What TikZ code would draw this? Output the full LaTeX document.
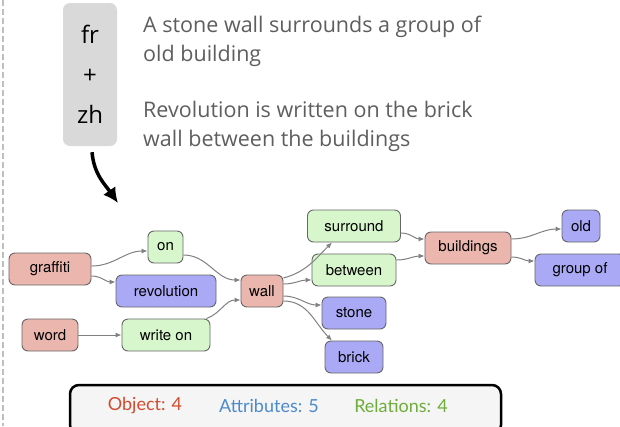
\documentclass[tikz,border=0pt]{standalone}
\usepackage{fontspec}
\setmainfont{Open Sans}
\setsansfont{TeX Gyre Heros}
\newfontfamily\countfont{Lato}
\usetikzlibrary{arrows.meta}

\definecolor{objred}{HTML}{EBB6AE}
\definecolor{attblue}{HTML}{A9A9F5}
\definecolor{relgreen}{HTML}{D7F6CC}
\definecolor{edgegray}{HTML}{808080}
\definecolor{txtgray}{HTML}{5E5E5E}
\definecolor{cntred}{HTML}{D14B30}
\definecolor{cntblue}{HTML}{4C8ACB}
\definecolor{cntgreen}{HTML}{6EAD3B}

\tikzset{
  gnode/.style={draw=black!60, rounded corners=6pt, minimum height=32pt, inner sep=0pt,
                line width=0.9pt, font=\sffamily\fontsize{15}{15}\selectfont},
  obj/.style={gnode, fill=objred},
  att/.style={gnode, fill=attblue},
  rel/.style={gnode, fill=relgreen},
  edge/.style={draw=edgegray, line width=1pt, -{Latex[length=6pt,width=5pt]}},
  cnt/.style={font=\countfont\fontsize{18}{18}\selectfont},
  caption/.style={anchor=north west, inner sep=0pt, align=left, text=txtgray,
                  font=\fontsize{21.5}{29}\selectfont},
}

\begin{document}
\begin{tikzpicture}[x=1pt,y=-1pt]
\useasboundingbox (0,0) rectangle (620,426);
%\draw [lightgray](0,0) grid (620,426);
\draw [black!25, line width=2pt, dash pattern=on 6pt off 3pt](3,0) -- (3,426);

% language pair and the two captions
\node [fill=black!15, rounded corners=7pt, minimum width=54pt, minimum height=143pt,
       align=center, font=\fontsize{24}{40}\selectfont] (lang) at (90,74.5) {fr\\+\\zh};
\node [caption] (capa) at (143,16) {A stone wall surrounds a group of\\old building};
\node [caption] (capb) at (143,101) {Revolution is written on the brick\\wall between the buildings};
\coordinate (tip) at (118,203);
\draw [line width=3.5pt, -{Latex[length=15pt,width=15pt]}]([xshift=2pt,yshift=-6pt]lang.south) to[out=-85,in=125] (tip);

% scene graph
\node [obj, minimum width=82pt] (graffiti)   at (50,269)    {graffiti};
\node [rel, minimum width=35pt] (on)         at (165.5,247) {on};
\node [att, minimum width=100pt](revolution) at (166,291)   {revolution};
\node [obj, minimum width=42pt] (wall)       at (262,291)   {wall};
\node [obj, minimum width=56pt] (word)       at (50,335)    {word};
\node [rel, minimum width=88pt] (writeon)    at (166,335)   {write on};
\node [rel, minimum width=93pt] (surround)   at (354,226)   {surround};
\node [rel, minimum width=84pt] (between)    at (354,270)   {between};
\node [att, minimum width=64pt] (stone)      at (354,313)   {stone};
\node [att, minimum width=58pt] (brick)      at (354,357)   {brick};
\node [obj, minimum width=86pt] (buildings)  at (468,248)   {buildings};
\node [att, minimum width=38pt] (old)        at (581,226)   {old};
\node [att, minimum width=90pt] (groupof)    at (580,270)   {group of};

\draw [edge]([yshift=3pt]graffiti.east) to[out=0,in=180] ([yshift=-4pt]on.west);
\draw [edge]([yshift=-7pt]graffiti.east) to[out=0,in=180] ([yshift=9pt]revolution.west);
\draw [edge]([yshift=-8pt]on.east) to[out=0,in=180] ([yshift=11pt]wall.west);
\draw [edge](word.east) -- (writeon.west);
\draw [edge]([xshift=-4pt]writeon.north east) to[out=20,in=180] ([yshift=-9pt]wall.west);
\draw [edge]([yshift=13pt]wall.east) to[out=15,in=225] ([xshift=-22pt]surround.south);
\draw [edge]([yshift=7pt]wall.east) to[out=0,in=180] ([yshift=-10pt]between.west);
\draw [edge]([yshift=-5pt]wall.east) to[out=0,in=180] ([yshift=8pt]stone.west);
\draw [edge]([yshift=-10pt]wall.east) to[out=0,in=135] ([xshift=-22pt]brick.north);
\draw [edge]([yshift=-7pt]surround.east) to[out=0,in=180] ([yshift=9pt]buildings.west);
\draw [edge]([yshift=10pt]between.east) to[out=0,in=180] ([yshift=-8pt]buildings.west);
\draw [edge]([yshift=9pt]buildings.east) to[out=0,in=180] ([yshift=-3pt]old.west);
\draw [edge]([yshift=-9pt]buildings.east) to[out=0,in=180] ([yshift=9pt]groupof.west);

% counts
\draw [black, line width=2.5pt, fill=black!4, rounded corners=9pt](70,385) rectangle (501,434);
\node [cnt, text=cntred]   (nobj) at (145,406) {Object: 4};
\node [cnt, text=cntblue]  (natt) at (269,406) {Attributes: 5};
\node [cnt, text=cntgreen] (nrel) at (401,406) {Relations: 4};
\end{tikzpicture}
\end{document}
